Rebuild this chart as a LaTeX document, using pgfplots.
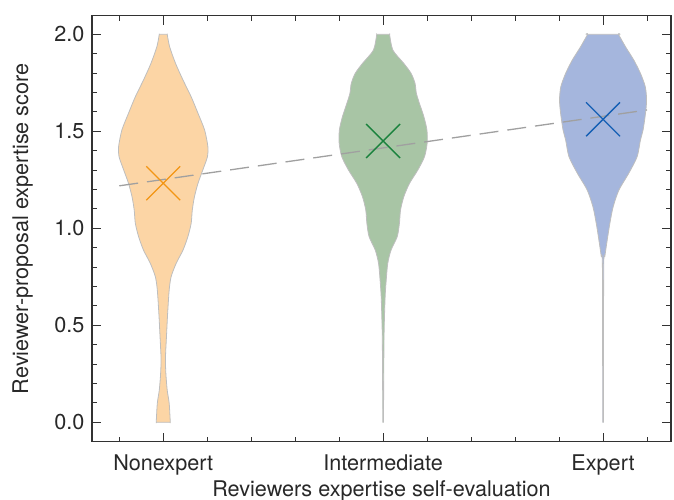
\documentclass[border=0pt]{standalone}
\usepackage{fontspec}
\setmainfont{TeX Gyre Heros}
\usepackage{pgfplots}
\pgfplotsset{compat=1.18}
\definecolor{txt}{RGB}{40,40,40}
\definecolor{axc}{RGB}{50,50,50}
\definecolor{edgec}{RGB}{190,190,190}
\definecolor{nonc}{RGB}{252,213,165}
\definecolor{intc}{RGB}{168,197,165}
\definecolor{expc}{RGB}{165,182,221}
\definecolor{nonm}{RGB}{243,150,20}
\definecolor{intm}{RGB}{25,130,60}
\definecolor{expm}{RGB}{20,95,180}
\definecolor{trendc}{RGB}{160,160,160}
\begin{document}
\begin{tikzpicture}
\begin{axis}[
  scale only axis, width=579bp, height=426bp,
  xmin=-0.324, xmax=2.309, ymin=-0.1, ymax=2.096,
  xtick={0,1,2}, xticklabels={Nonexpert,Intermediate,Expert},
  minor xtick={-0.2,0.2,0.4,0.6,0.8,1.2,1.4,1.6,1.8,2.2},
  ytick={0,0.5,1,1.5,2},
  minor ytick={0.1,0.2,0.3,0.4,0.6,0.7,0.8,0.9,1.1,1.2,1.3,1.4,1.6,1.7,1.8,1.9},
  tick align=inside, major tick length=9bp, minor tick length=5bp,
  tick style={color=axc, line width=0.9bp},
  axis line style={color=axc, line width=1.1bp},
  ticklabel style={font=\fontsize{21.7}{26}\selectfont, text=txt},
  label style={font=\fontsize{21.7}{26}\selectfont, text=txt},
  y tick label style={/pgf/number format/fixed, /pgf/number format/fixed zerofill, /pgf/number format/precision=1, xshift=-4bp},
  x tick label style={anchor=base, yshift=-29bp},
  /pgf/number format/assume math mode=true,
  xlabel={Reviewers expertise self-evaluation},
  ylabel={Reviewer-proposal expertise score},
  xlabel style={at={(axis description cs:0.5,-0.1291)}, anchor=base},
  ylabel style={at={(axis description cs:-0.1105,0.5)}, anchor=base},
  clip=true,
]
% Nonexpert violin
\addplot[fill=nonc, draw=edgec, line width=0.8bp, smooth, tension=0.45] coordinates {
(0.032,0) (0.032,0) (0.027,0.098) (0.018,0.166) (0.012,0.25) (0.010,0.33) (0.015,0.45) (0.020,0.562) (0.027,0.682) (0.036,0.751) (0.059,0.82) (0.090,0.888) (0.112,0.957) (0.127,1.026) (0.132,1.094) (0.142,1.163) (0.158,1.232) (0.180,1.301) (0.201,1.369) (0.203,1.421) (0.188,1.507) (0.158,1.593) (0.127,1.678) (0.090,1.764) (0.056,1.85) (0.029,1.936) (0.018,2.0) (0.018,2.0)
(-0.018,2.0) (-0.018,2.0) (-0.029,1.936) (-0.056,1.85) (-0.090,1.764) (-0.127,1.678) (-0.158,1.593) (-0.188,1.507) (-0.203,1.421) (-0.201,1.369) (-0.180,1.301) (-0.158,1.232) (-0.142,1.163) (-0.132,1.094) (-0.127,1.026) (-0.112,0.957) (-0.090,0.888) (-0.059,0.82) (-0.036,0.751) (-0.027,0.682) (-0.020,0.562) (-0.015,0.45) (-0.010,0.33) (-0.012,0.25) (-0.018,0.166) (-0.027,0.098) (-0.032,0) (-0.032,0)
} -- cycle;
% Intermediate violin
\addplot[fill=intc, draw=edgec, line width=0.8bp, smooth, tension=0.45] coordinates {
(1.0015,0) (1.003,0.304) (1.0045,0.476) (1.009,0.648) (1.014,0.734) (1.021,0.82) (1.036,0.888) (1.064,0.957) (1.074,1.026) (1.079,1.094) (1.094,1.163) (1.120,1.232) (1.158,1.301) (1.188,1.369) (1.200,1.438) (1.199,1.507) (1.185,1.576) (1.165,1.644) (1.151,1.696) (1.145,1.747) (1.127,1.799) (1.094,1.85) (1.044,1.919) (1.029,2.0) (1.029,2.0)
(0.971,2.0) (0.971,2.0) (0.956,1.919) (0.906,1.85) (0.873,1.799) (0.855,1.747) (0.849,1.696) (0.835,1.644) (0.815,1.576) (0.801,1.507) (0.800,1.438) (0.812,1.369) (0.842,1.301) (0.880,1.232) (0.906,1.163) (0.921,1.094) (0.926,1.026) (0.936,0.957) (0.964,0.888) (0.979,0.82) (0.986,0.734) (0.991,0.648) (0.9955,0.476) (0.997,0.304) (0.9985,0)
} -- cycle;
% Expert violin
\addplot[fill=expc, draw=edgec, line width=0.8bp, smooth, tension=0.45] coordinates {
(2.0015,0) (2.003,0.80) (2.008,0.854) (2.019,0.94) (2.031,1.026) (2.046,1.111) (2.072,1.197) (2.117,1.284) (2.155,1.369) (2.170,1.455) (2.182,1.507) (2.193,1.593) (2.198,1.661) (2.192,1.730) (2.170,1.799) (2.140,1.867) (2.102,1.936) (2.070,2.0) (2.070,2.0)
(1.930,2.0) (1.930,2.0) (1.898,1.936) (1.860,1.867) (1.830,1.799) (1.808,1.730) (1.802,1.661) (1.807,1.593) (1.818,1.507) (1.830,1.455) (1.845,1.369) (1.883,1.284) (1.928,1.197) (1.954,1.111) (1.969,1.026) (1.981,0.94) (1.992,0.854) (1.997,0.80) (1.9985,0)
} -- cycle;
% means
\addplot[only marks, mark=x, mark size=24bp, color=nonm, mark options={line width=1.3bp}] coordinates {(0,1.232)};
\addplot[only marks, mark=x, mark size=24bp, color=intm, mark options={line width=1.3bp}] coordinates {(1,1.45)};
\addplot[only marks, mark=x, mark size=24bp, color=expm, mark options={line width=1.3bp}] coordinates {(2,1.562)};
% trend
\addplot[trendc, line width=1.3bp, dash pattern=on 19bp off 9bp] coordinates {(-0.2,1.219) (2.2,1.61)};
\end{axis}
\pgfresetboundingbox
\path (current axis.south west) ++(-92bp,-58.3bp) coordinate (bbA);
\path (current axis.north east) ++(3bp,15.7bp) coordinate (bbB);
\path[use as bounding box] (bbA) rectangle (bbB);
\end{tikzpicture}
\end{document}
